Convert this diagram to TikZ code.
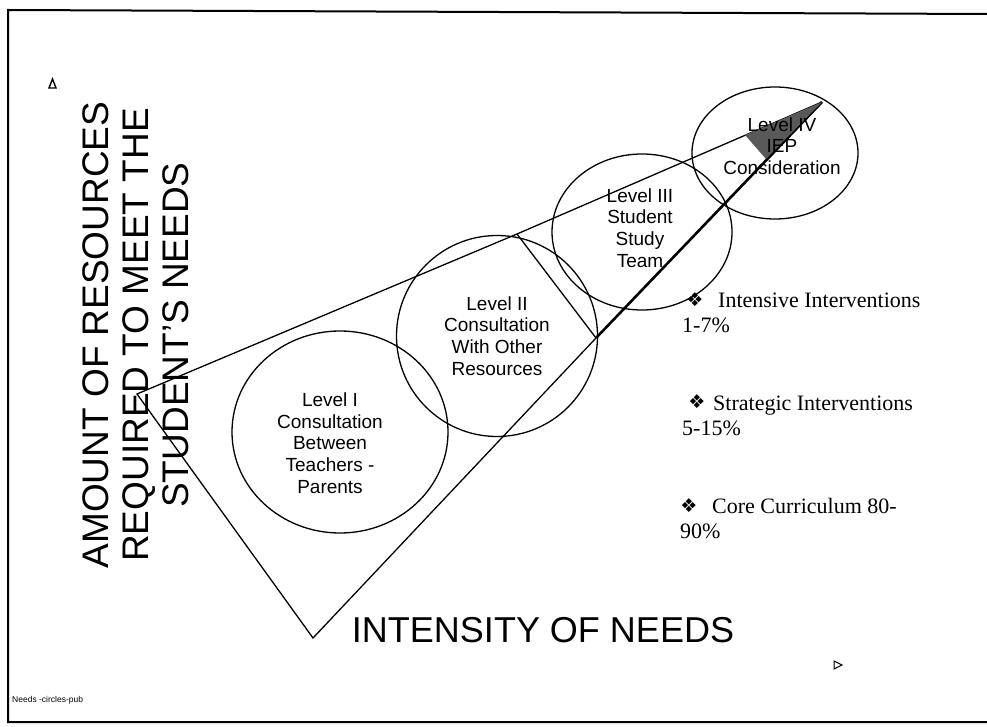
\documentclass[tikz,border=0pt]{standalone}
\usepackage{fontspec}
\setmainfont{Liberation Sans}
\newfontfamily\serifrm{Liberation Serif}
\newfontfamily\dejavu{DejaVu Sans}
\usetikzlibrary{shapes.geometric}
\begin{document}
\begin{tikzpicture}[x=1pt,y=-1pt,
  ring/.style={draw, line width=1.3pt, ellipse, inner sep=0pt},
  edge/.style={line width=1.3pt},
  thickedge/.style={line width=2.6pt},
  lbl/.style={align=center, inner sep=0pt, font=\fontsize{19}{21.7}\selectfont},
  axis/.style={align=center, inner sep=0pt, font=\fontsize{37}{40}\selectfont},
  bul/.style={inner sep=0pt, font=\dejavu\fontsize{19}{19}\selectfont},
  bultext/.style={align=left, anchor=base west, inner sep=0pt, font=\serifrm\fontsize{22}{24.5}\selectfont},
  smallmark/.style={line width=1.4pt, line join=miter}
]
\useasboundingbox (0,0) rectangle (987,727);
% frame
\coordinate (f1) at (8,10);
\coordinate (f2) at (987,14);
\coordinate (f3) at (8,722);
\coordinate (f4) at (987,722);
\draw[line width=2pt] (f2) -- (f1) -- (f3) -- (f4);

% circles
\node[ring, minimum width=216, minimum height=202] (c1) at (340,432) {};
\node[ring, minimum width=201, minimum height=201] (c2) at (497,336) {};
\node[ring, minimum width=180, minimum height=156] (c3) at (642,232) {};
\node[ring, minimum width=166, minimum height=132] (c4) at (775,153) {};

% wedge shape
\coordinate (A) at (137,394);
\coordinate (P) at (517,234);
\coordinate (Q) at (596,338);
\coordinate (B) at (313,638);
\coordinate (T) at (822,102);
\coordinate (D1) at (745,135);
\coordinate (D2) at (766,159);
\draw[edge, line join=miter] (A) -- (P) -- (Q) -- (B) -- cycle;
\draw[edge] (P) -- (T);
\draw[thickedge] (Q) -- (T);
\fill[black!65] (D1) -- (T) -- (D2) -- cycle;

% circle labels
\node[lbl] (t1) at (330,443) {Level I\\Consultation\\Between\\Teachers -\\Parents};
\node[lbl] (t2) at (497,336) {Level II\\Consultation\\With Other\\Resources};
\node[lbl] (t3) at (640,228) {Level III\\Student\\Study\\Team};
\node[lbl] (t4) at (782,146) {Level IV\\IEP\\Consideration};

% axis labels
\node[axis, rotate=90] (ylab) at (136,335) {AMOUNT OF RESOURCES\\REQUIRED TO MEET THE\\STUDENT'S NEEDS};
\node[inner sep=0pt, font=\fontsize{36}{40}\selectfont] (xlab) at (543,630) {INTENSITY OF NEEDS};

% bullets
\node[bul] (b1) at (695,300) {❖};
\node[bultext] (bt1) at (682,332) {\hspace*{36pt}Intensive Interventions\\1-7\%};
\node[bul] (b2) at (697,402) {❖};
\node[bultext] (bt2) at (682,435) {\hspace*{31pt}Strategic Interventions\\5-15\%};
\node[bul] (b3) at (689,506) {❖};
\node[bultext] (bt3) at (680,538) {\hspace*{32pt}Core Curriculum 80-\\90\%};

% small marks
\coordinate (m1) at (49,88);
\coordinate (m2) at (56,88);
\coordinate (m3) at (52.5,79);
\draw[smallmark] (m1) -- (m2) -- (m3) -- cycle;
\coordinate (n1) at (834,661);
\coordinate (n2) at (834,669);
\coordinate (n3) at (842,665);
\draw[line width=1pt] (n1) -- (n2) -- (n3) -- cycle;

% footer
\node[anchor=west, inner sep=0pt, font=\fontsize{8.5}{9}\selectfont] (foot) at (12,700) {Needs -circles-pub};
\end{tikzpicture}
\end{document}
